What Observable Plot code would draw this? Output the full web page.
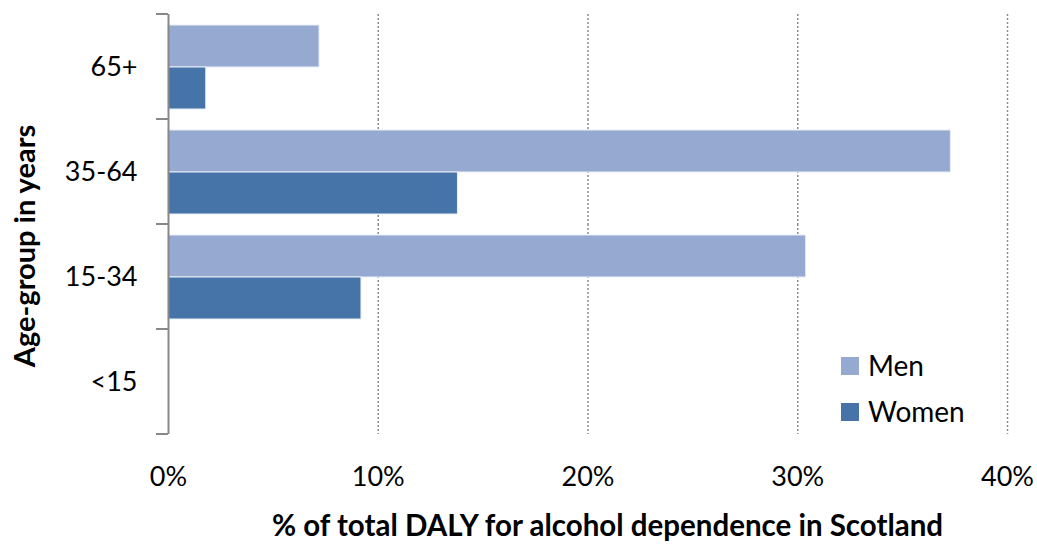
<!DOCTYPE html>
<html>
<head>
<meta charset="utf-8">
<script src="https://cdn.jsdelivr.net/npm/d3@7"></script>
<script src="https://cdn.jsdelivr.net/npm/@observablehq/plot@0.6"></script>
<style>
  html, body { margin: 0; padding: 0; background: white; }
</style>
</head>
<body>
<div id="chart"></div>
<script>
const ages = ["65+", "35-64", "15-34", "<15"];
const sexes = ["Men", "Women"];
const men = [7.2, 37.3, 30.4, 0];
const women = [1.8, 13.8, 9.2, 0];
const xTicks = [0, 10, 20, 30, 40];
const colors = ["#95A9D1", "#4674A9"];
const xTitle = "% of total DALY for alcohol dependence in Scotland";
const yTitle = "Age-group in years";

const data = ages.flatMap((a, i) => [
  {age: a, sex: "Men", value: men[i]},
  {age: a, sex: "Women", value: women[i]}
]);

const FONT = "Lato, 'Open Sans', sans-serif";

const chart = Plot.plot({
  width: 1037,
  height: 545,
  marginLeft: 168,
  marginRight: 30,
  marginTop: 12,
  marginBottom: 110,
  style: {fontFamily: FONT, fontSize: "27px", color: "#000", background: "white"},
  x: {domain: [0, 40], ticks: xTicks},
  y: {domain: sexes, paddingInner: 0, paddingOuter: 0.25, axis: null},
  fy: {domain: ages, padding: 0, axis: null},
  color: {domain: sexes, range: colors},
  marks: [
    Plot.ruleX(xTicks.slice(1), {stroke: "#8c8c8c", strokeDasharray: "2,2", strokeWidth: 1.5}),
    Plot.barX(data, {x: "value", y: "sex", fy: "age", fill: "sex", stroke: "#e8eef6", strokeWidth: 1}),
    Plot.ruleX([0], {stroke: "#888", strokeWidth: 2}),
    Plot.axisFy({anchor: "left", tickSize: 0, tickPadding: 31, label: null}),
    Plot.axisX({ticks: xTicks, tickSize: 0, tickPadding: 32, tickFormat: d => d + "%", label: null})
  ]
});

const svg = d3.select(chart);
const xs = chart.scale("x");
const fys = chart.scale("fy");
const x0 = xs.apply(0);
const bw = fys.bandwidth;
const bounds = ages.map(a => fys.apply(a)).concat([fys.apply(ages[ages.length - 1]) + bw]);

// category boundary ticks
svg.append("g")
  .selectAll("line").data(bounds).join("line")
  .attr("x1", x0 - 12).attr("x2", x0)
  .attr("y1", d => d).attr("y2", d => d)
  .attr("stroke", "#888").attr("stroke-width", 2);

// axis titles
const xr = xs.range;
svg.append("text")
  .attr("x", (xr[0] + xr[1]) / 2 + 20)
  .attr("y", 536)
  .attr("text-anchor", "middle")
  .attr("font-family", FONT)
  .attr("font-weight", "bold")
  .attr("font-size", 29.5)
  .attr("fill", "#000")
  .text(xTitle);

svg.append("text")
  .attr("transform", `translate(35, ${(bounds[0] + bounds[bounds.length - 1]) / 2 + 22}) rotate(-90)`)
  .attr("text-anchor", "middle")
  .attr("font-family", FONT)
  .attr("font-weight", "bold")
  .attr("font-size", 29)
  .attr("fill", "#000")
  .text(yTitle);

// legend
const lg = svg.append("g").attr("transform", "translate(841, 357)");
sexes.forEach((s, i) => {
  const g = lg.append("g").attr("transform", `translate(0, ${i * 46})`);
  g.append("rect").attr("width", 18).attr("height", 18).attr("fill", colors[i]);
  g.append("text").attr("x", 27).attr("y", 9).attr("dy", "0.36em")
    .attr("text-anchor", "start")
    .attr("font-family", FONT).attr("font-size", 28).attr("fill", "#000").text(s);
});

document.getElementById("chart").appendChild(chart);
</script>
</body>
</html>
